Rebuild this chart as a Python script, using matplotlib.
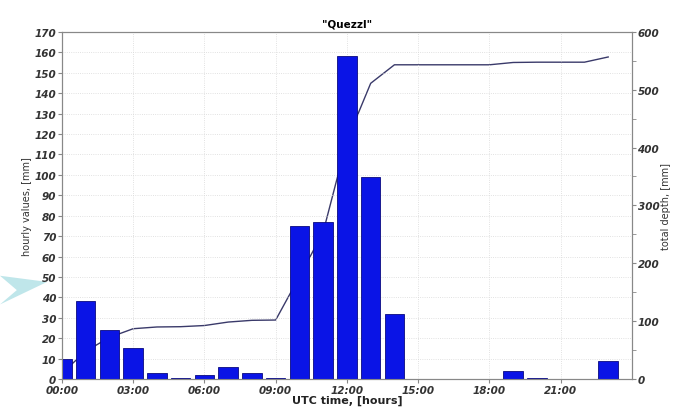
import numpy as np
import matplotlib
matplotlib.use('Agg')
import matplotlib.pyplot as plt
from matplotlib.patches import Polygon

# hourly rainfall, [mm] (bar for each UTC hour)
hours = np.arange(24)
hourly = [10, 38, 24, 15, 3, 0.5, 2, 6, 3, 0.5, 75, 77, 158, 99, 32,
          0, 0, 0, 0, 4, 0.5, 0, 0, 9]
# total depth, [mm]
total = [10, 48, 72, 87, 90, 90.5, 92.5, 98.5, 101.5, 102, 177, 254, 412, 511, 543,
         543, 543, 543, 543, 547, 547.5, 547.5, 547.5, 556.5]
xticks = [0, 3, 6, 9, 12, 15, 18, 21]
xlabels = ['00:00', '03:00', '06:00', '09:00', '12:00', '15:00', '18:00', '21:00']

tickfont = dict(fontsize=7.5, style='italic', fontweight='bold', color='#333333')

fig = plt.figure(figsize=(6.73, 4.10), dpi=100)
ax = fig.add_axes([0.092, 0.073, 0.847, 0.847])
ax2 = ax.twinx()
ax.set_zorder(ax2.get_zorder() + 1)
ax.patch.set_visible(False)

ax2.plot(hours, total, color='#3a3a6a', lw=1.0)
ax2.set_ylim(0, 600)
ax2.set_yticks(np.arange(0, 601, 50), minor=True)
ax2.set_yticks(np.arange(0, 601, 100))
ax2.set_yticklabels([str(v) for v in range(0, 601, 100)], **tickfont)
ax2.set_ylabel('total depth, [mm]', fontsize=7, color='#333333', labelpad=1)
ax2.tick_params(axis='y', which='both', length=3, color='#888888', pad=1)

ax.set_axisbelow(True)
ax.bar(hours, hourly, width=0.82, color='#0a14e6', edgecolor='#0a0a80', linewidth=0.6)
ax.set_xlim(0, 24)
ax.set_ylim(0, 170)
ax.set_yticks(np.arange(0, 171, 10))
ax.set_yticklabels([str(v) for v in range(0, 171, 10)], **tickfont)
ax.set_xticks(xticks)
ax.set_xticklabels(xlabels, **tickfont)
ax.tick_params(axis='both', length=3, color='#888888', pad=1)
ax.grid(True, color='#d8d8d8', lw=0.6, ls=':')
ax.set_xlabel('UTC time, [hours]', fontsize=8, fontweight='bold', color='#222222', labelpad=0)
ax.set_ylabel('hourly values, [mm]', fontsize=7, color='#333333', labelpad=2)
ax.set_title('"Quezzl"', fontsize=7.5, fontweight='bold', pad=4)

for a in (ax, ax2):
    for s in a.spines.values():
        s.set_color('#888888')
        s.set_linewidth(0.8)

# light cyan slide decoration on the left
fig.patches.append(Polygon([[0.0, 0.255], [0.07, 0.31], [0.0, 0.325], [0.025, 0.29]],
                           closed=True, transform=fig.transFigure,
                           facecolor='#bfe6ea', edgecolor='none', zorder=0))

fig.savefig('out.png', dpi=100)
